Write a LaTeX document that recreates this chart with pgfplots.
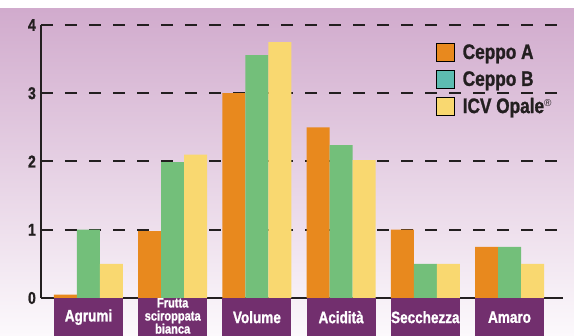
\documentclass[border=0pt]{standalone}
\usepackage{fontspec}
\setmainfont{Liberation Sans}
\newfontfamily\cond{Liberation Sans}[FakeStretch=0.82, FakeBold=1.2]
\usepackage{pgfplots}
\pgfplotsset{compat=1.18}
\definecolor{cA}{HTML}{E8891E}
\definecolor{cB}{HTML}{73BF7A}
\definecolor{cBleg}{HTML}{5DBCB1}
\definecolor{cC}{HTML}{F9D870}
\definecolor{purp}{HTML}{722F6E}
\definecolor{ink}{HTML}{231F20}
\definecolor{bgtop}{HTML}{D1ABCD}
\definecolor{bgmid}{HTML}{E2CBE2}
\definecolor{bgbot}{HTML}{FCF9FC}
\pgfplotsset{sq legend/.style={legend image code/.code={\fill[##1] (0pt,-9pt) rectangle (18pt,9pt);}}}
\begin{document}
\begin{tikzpicture}[x=1pt,y=1pt]
\path[use as bounding box] (0,0) rectangle (574,336);
\fill[white] (0,0) rectangle (574,336);
\shade[top color=bgtop, middle color=bgmid, bottom color=bgbot] (0,0) rectangle (574,327);
\begin{axis}[
  at={(41pt,38pt)}, anchor=south west,
  scale only axis, width=522pt, height=273pt,
  xmin=-0.564, xmax=5.635, ymin=0, ymax=4,
  axis x line=bottom, axis y line=left,
  axis line style={line width=2pt, color=ink, -},
  major tick length=0pt,
  ytick={0,1,2,3,4},
  ymajorgrids,
  grid style={dash pattern=on 12pt off 12pt, line width=2pt, color=ink},
  /pgf/number format/assume math mode=true,
  yticklabel style={font=\cond\bfseries\fontsize{17}{17}\selectfont, text=ink, inner sep=0pt, xshift=-5pt},
  xtick={0,1,2,3,4,5},
  xticklabels={Agrumi, {\fontsize{13.5}{10.8}\selectfont\begin{tabular}{@{}c@{}}Frutta\\sciroppata\\bianca\end{tabular}}, Volume, Acidità, Secchezza, Amaro},
  xticklabel style={fill=purp, text=white, minimum width=69pt, minimum height=38pt, inner sep=0pt, anchor=north, align=center, font=\cond\bfseries\fontsize{16.5}{16.5}\selectfont},
  ybar, bar width=23pt,
  legend style={at={(0.757,0.934)}, anchor=north west, draw=none, fill=none, inner sep=0pt, row sep=8.5pt, font=\cond\bfseries\fontsize{21}{21}\selectfont, text=ink, nodes={inner sep=0pt}, /tikz/every odd column/.append style={column sep=8pt}},
  legend cell align=left,
]
\addplot[fill=cA, draw=none, bar shift=-23pt, forget plot] coordinates {(0,0.05) (1,0.98) (2,3.0) (3,2.5) (4,1.0) (5,0.75)};
\addplot[fill=cB, draw=none, bar shift=0pt, forget plot] coordinates {(0,1.0) (1,1.99) (2,3.56) (3,2.24) (4,0.5) (5,0.75)};
\addplot[fill=cC, draw=none, bar shift=23pt, forget plot] coordinates {(0,0.5) (1,2.1) (2,3.75) (3,2.02) (4,0.5) (5,0.5)};
\addlegendimage{sq legend, fill=cA}
\addlegendentry{Ceppo A}
\addlegendimage{sq legend, fill=cBleg}
\addlegendentry{Ceppo B}
\addlegendimage{sq legend, fill=cC}
\addlegendentry{ICV Opale{\normalfont\fontsize{10}{10}\selectfont\raisebox{7pt}{®}}}
\end{axis}
\end{tikzpicture}
\end{document}
